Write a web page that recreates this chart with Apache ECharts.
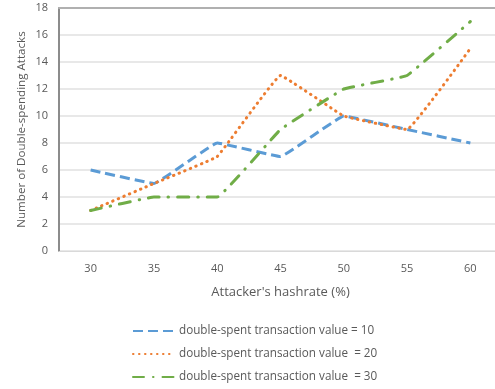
<!DOCTYPE html>
<html><head><meta charset="utf-8">
<script src="https://cdn.jsdelivr.net/npm/echarts@6/dist/echarts.min.js"></script>
<style>html,body{margin:0;padding:0;background:#fff}#c{width:495px;height:389px}</style>
</head><body><div id="c"></div>
<script>
const categories = ['30','35','40','45','50','55','60'];
const seriesNames = ['double-spent transaction value = 10','double-spent transaction value  = 20','double-spent transaction value  = 30'];
const value10 = [6,5,8,7,10,9,8];
const value20 = [3,5,7,13,10,9,15];
const value30 = [3,4,4,9,12,13,17];
const yTicks = {min:0,max:18,interval:2};

const font = 'Open Sans, Noto Sans, sans-serif';
const chart = echarts.init(document.getElementById('c'));
chart.setOption({
  animation:false,
  grid:{left:59,top:8,width:443,bottom:138,containLabel:false,outerBoundsMode:'none'},
  legend:{orient:'vertical',left:127,top:320,itemWidth:41,itemHeight:14,itemGap:11,
    itemStyle:{opacity:0},
    textStyle:{color:'#595959',fontSize:11.7,fontFamily:font},
    data:seriesNames},
  xAxis:[{type:'category',data:categories,boundaryGap:true,
    name:"Attacker's hashrate (%)",nameLocation:'middle',nameGap:35,
    nameTextStyle:{color:'#595959',fontSize:13,fontFamily:font},
    axisLine:{lineStyle:{color:'#d9d9d9'}},axisTick:{show:false},
    axisLabel:{color:'#595959',fontSize:11,fontFamily:font,margin:12}},
    {type:'category',data:categories,position:'top',axisLine:{show:true,lineStyle:{color:'#b0b0b0',width:2}},
     axisTick:{show:false},axisLabel:{show:false}}],
  yAxis:{type:'value',min:yTicks.min,max:yTicks.max,interval:yTicks.interval,
    name:'Number of Double-spending Attacks',nameLocation:'middle',nameGap:31,nameMoveOverlap:false,
    nameTextStyle:{color:'#595959',fontSize:11.6,fontFamily:font},
    axisLine:{show:true,lineStyle:{color:'#8c8c8c',width:2}},axisTick:{show:false},
    axisLabel:{color:'#595959',fontSize:11,fontFamily:font,margin:11},
    splitLine:{lineStyle:{color:'#e0e0e0',width:1.5}}},
  series:[
    {name:seriesNames[0],type:'line',data:value10,smooth:0.06,symbol:'none',
     itemStyle:{color:'#5B9BD5'},
     lineStyle:{color:'#5B9BD5',width:3,type:[10,5],cap:'butt'}},
    {name:seriesNames[1],type:'line',data:value20,smooth:0.06,symbol:'none',
     itemStyle:{color:'#ED7D31'},
     lineStyle:{color:'#ED7D31',width:3,type:[0.5,5.5],cap:'round'}},
    {name:seriesNames[2],type:'line',data:value30,smooth:0.06,symbol:'none',
     itemStyle:{color:'#70AD47'},
     lineStyle:{color:'#70AD47',width:3,type:[11,9,0.5,9],cap:'round'}}
  ]
});
</script></body></html>
